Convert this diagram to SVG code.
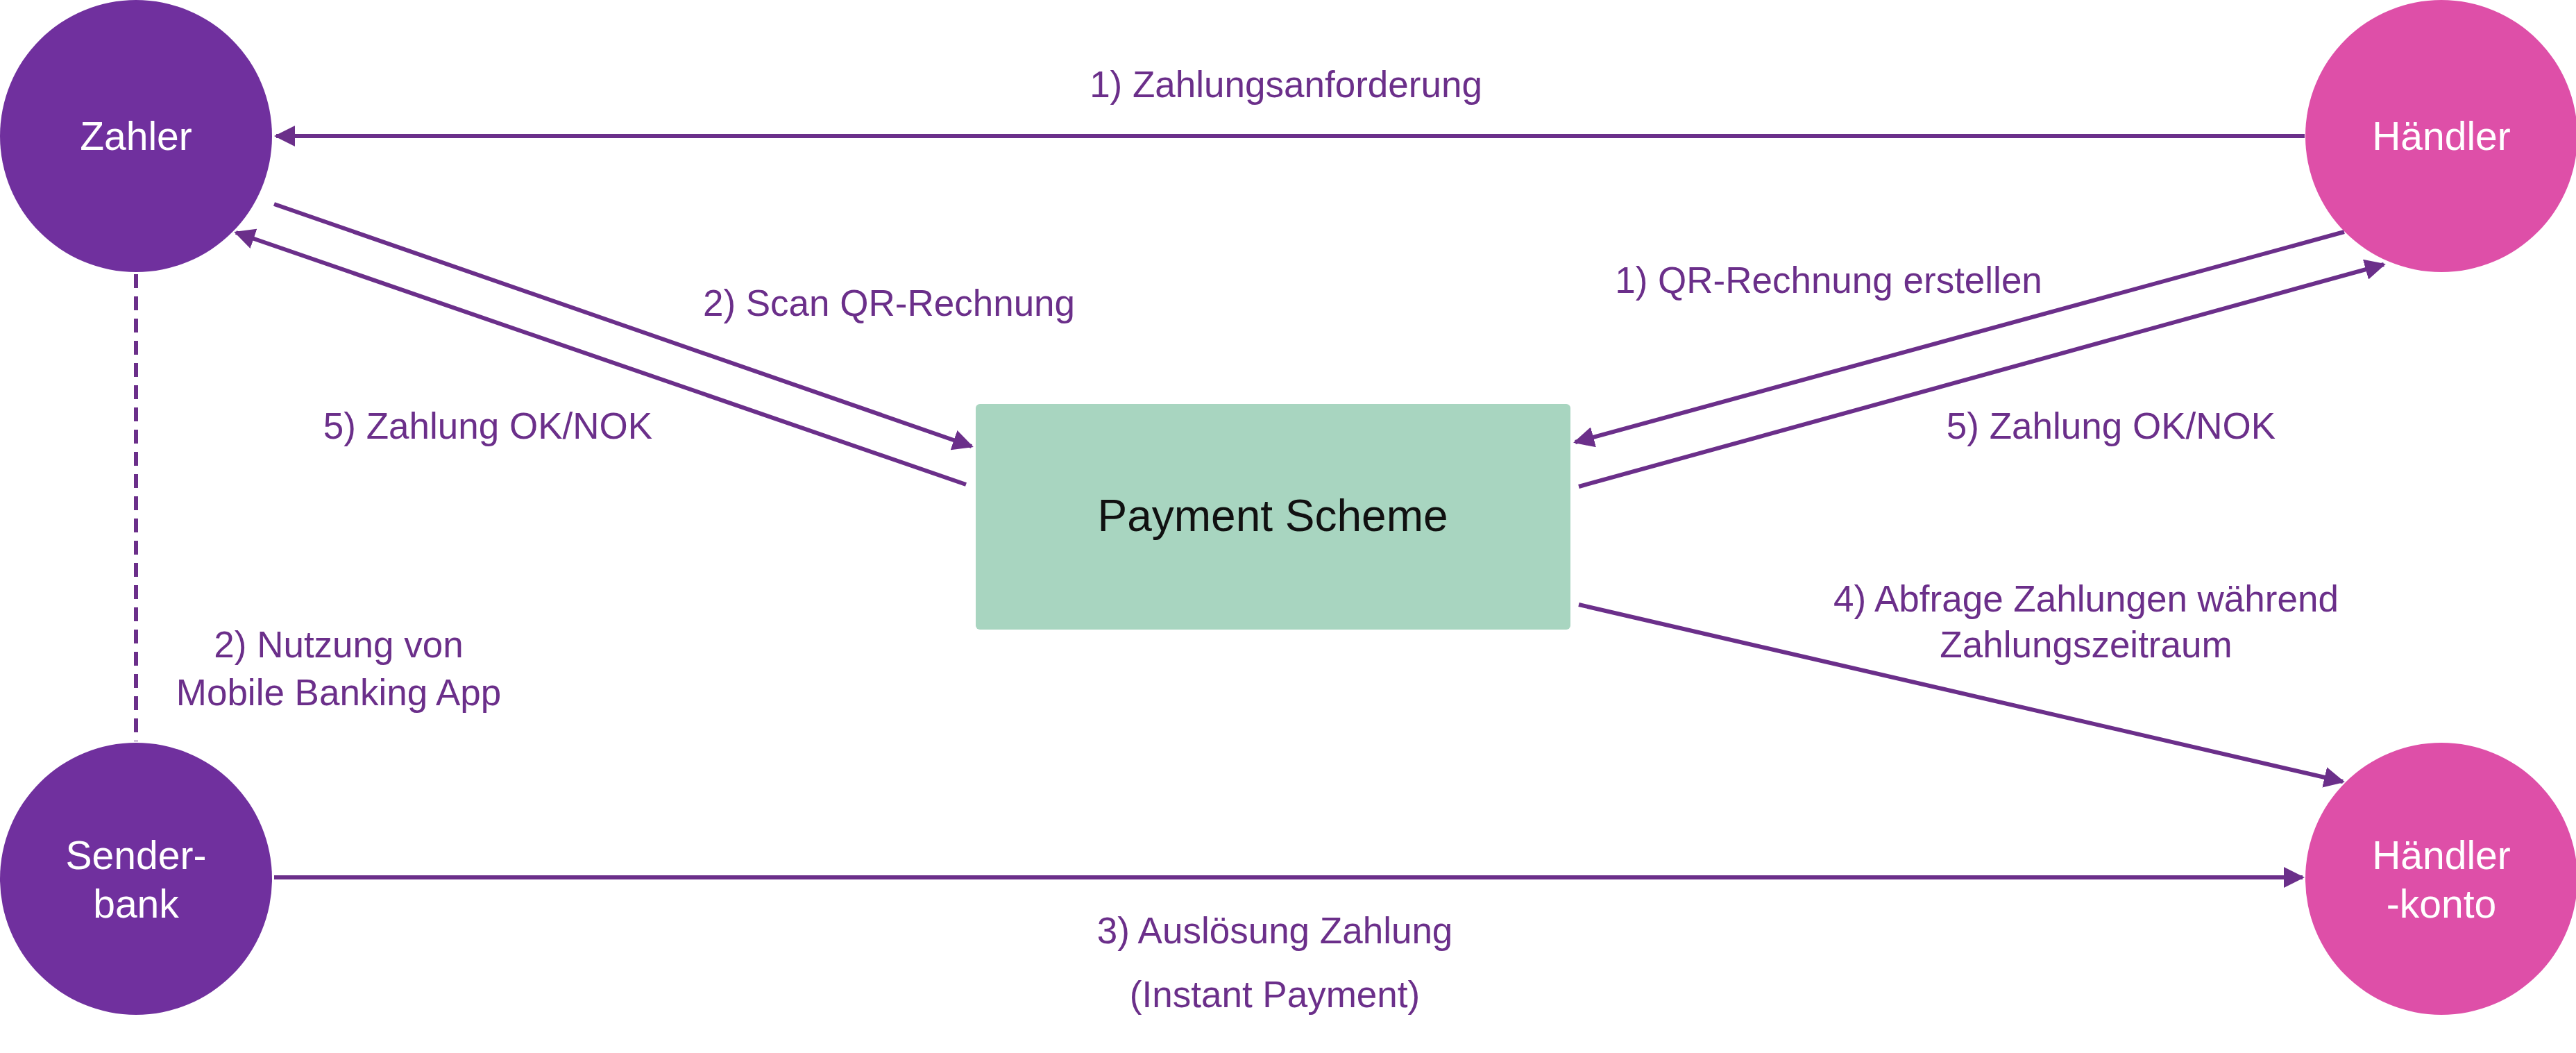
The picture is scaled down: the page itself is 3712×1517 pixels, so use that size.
<svg xmlns="http://www.w3.org/2000/svg" width="3712" height="1517" viewBox="0 0 3712 1517">
<defs>
<marker id="ah" viewBox="0 0 10 10" refX="9" refY="5" markerWidth="5" markerHeight="5" orient="auto-start-reverse" markerUnits="strokeWidth"><path d="M0,0 L10,5 L0,10 z" fill="#6B2F8A"/></marker>
<style>
.c{stroke:#6B2F8A;stroke-width:6;fill:none}
.a{marker-end:url(#ah)}
.l{font-family:"Liberation Sans",Arial,sans-serif;font-size:53px;fill:#6B2F8A;text-anchor:middle}
.n{font-family:"Liberation Sans",Arial,sans-serif;font-size:57px;fill:#fff;text-anchor:middle}
</style>
</defs>
<rect width="3712" height="1517" fill="#fff"/>
<g id="connectors">
<line class="c a" x1="3321" y1="196" x2="398" y2="196"/>
<line class="c a" x1="395" y1="294" x2="1400" y2="643"/>
<line class="c a" x1="1392" y1="698" x2="340" y2="335"/>
<line class="c a" x1="3378" y1="334" x2="2270" y2="637"/>
<line class="c a" x1="2275" y1="701" x2="3435" y2="381"/>
<line class="c a" x1="2275" y1="871" x2="3376" y2="1126"/>
<line class="c a" x1="395" y1="1264" x2="3318" y2="1264"/>
<line class="c" x1="196" y1="395" x2="196" y2="1068" stroke-dasharray="20,12"/>
<text class="l" x="1853" y="140">1) Zahlungsanforderung</text>
<text class="l" x="1281" y="455">2) Scan QR-Rechnung</text>
<text class="l" x="703" y="632">5) Zahlung OK/NOK</text>
<text class="l" x="2635" y="422">1) QR-Rechnung erstellen</text>
<text class="l" x="3042" y="632">5) Zahlung OK/NOK</text>
<text class="l" x="3006" y="881">4) Abfrage Zahlungen während</text>
<text class="l" x="3006" y="947">Zahlungszeitraum</text>
<text class="l" x="1837" y="1359">3) Auslösung Zahlung</text>
<text class="l" x="1837" y="1451">(Instant Payment)</text>
<text class="l" x="488" y="947">2) Nutzung von</text>
<text class="l" x="488" y="1016">Mobile Banking App</text>
</g>
<g id="zahler"><circle cx="196" cy="196" r="196" fill="#70309E"/><text class="n" x="196" y="216">Zahler</text></g>
<g id="haendler"><circle cx="3518" cy="196" r="196" fill="#DE4FA8"/><text class="n" x="3518" y="216">Händler</text></g>
<g id="senderbank"><circle cx="196" cy="1266" r="196" fill="#70309E"/><text class="n" x="196" y="1252">Sender-</text><text class="n" x="196" y="1322">bank</text></g>
<g id="haendlerkonto"><circle cx="3518" cy="1266" r="196" fill="#DE4FA8"/><text class="n" x="3518" y="1252">Händler</text><text class="n" x="3518" y="1322">-konto</text></g>
<g id="scheme"><rect x="1406" y="582" width="857" height="325" rx="6" fill="#A8D5C0"/><text x="1834" y="765" font-family="Liberation Sans,Arial,sans-serif" font-size="64" fill="#111" text-anchor="middle">Payment Scheme</text></g>
</svg>
